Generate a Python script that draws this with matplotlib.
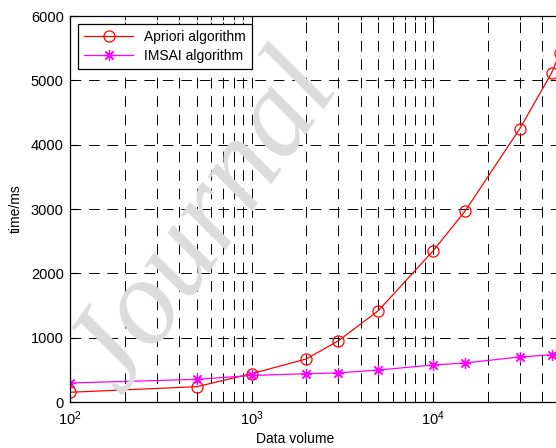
import numpy as np
import matplotlib.pyplot as plt
from matplotlib.ticker import LogLocator, LogFormatterMathtext, NullFormatter

plt.rcParams['font.family'] = ['Liberation Sans', 'DejaVu Sans']
plt.rcParams['mathtext.fontset'] = 'custom'
plt.rcParams['mathtext.rm'] = 'Liberation Sans'
plt.rcParams['mathtext.it'] = 'Liberation Sans'

# data
volume = [100, 500, 1000, 2000, 3000, 5000, 10000, 15000, 30000, 45000, 50000]
apriori = [151, 238, 440, 668, 948, 1420, 2347, 2965, 4244, 5114, 5420]
imsai = [295, 352, 412, 440, 452, 497, 575, 606, 700, 734, 745]

fig = plt.figure(figsize=(5.56, 4.48), dpi=100)

# watermark
fig.text(0.37, 0.50, 'Journal', fontsize=88, family='Liberation Serif', style='italic',
         color='#dcdcdc', rotation=55, ha='center', va='center', zorder=0)

ax = fig.add_axes([70/556, 46/448, 486/556, 386/448])
ax.patch.set_alpha(0)

ax.plot(volume, apriori, color='red', lw=0.9, marker='o', ms=8, mfc='none',
        mec='red', mew=0.9, label='Apriori algorithm')
ax.plot(volume, imsai, color='magenta', lw=0.9, marker=(8, 2, 0), ms=8,
        mec='magenta', mew=0.9, label='IMSAI algorithm')

ax.set_xscale('log')
ax.set_xlim(100, 47600)
ax.set_ylim(0, 6000)
ax.set_yticks(np.arange(0, 6001, 1000))
ax.xaxis.set_major_locator(LogLocator(base=10))
ax.xaxis.set_major_formatter(LogFormatterMathtext())
ax.xaxis.set_minor_locator(LogLocator(base=10, subs=np.arange(2, 10)))
ax.xaxis.set_minor_formatter(NullFormatter())

ax.grid(True, which='major', axis='both', color='k', lw=0.7, linestyle=(0, (11, 8)))
ax.grid(True, which='minor', axis='x', color='k', lw=0.7, linestyle=(0, (11, 8)))

ax.tick_params(which='both', direction='in', top=True, right=False, labelsize=10.5)
ax.tick_params(which='major', length=5, width=0.8)
ax.tick_params(which='minor', length=3, width=0.6)
ax.tick_params(axis='x', pad=5.5)
ax.tick_params(axis='y', pad=4.5)
ax.spines['right'].set_visible(False)
for s in ['top', 'left', 'bottom']:
    ax.spines[s].set_linewidth(0.9)

ax.set_xlabel('Data volume', fontsize=10)
ax.set_ylabel('time/ms', fontsize=10)
ax.xaxis.set_label_coords(0.463, -0.078)
ax.yaxis.set_label_coords(-0.097, 0.5)

leg = ax.legend(loc='upper left', bbox_to_anchor=(0.0165, 0.979), borderaxespad=0,
                fancybox=False, edgecolor='k', framealpha=1, fontsize=10,
                handlelength=3.5, borderpad=0.45, labelspacing=0.35)
leg.get_frame().set_linewidth(0.9)

fig.savefig('out.png', dpi=100)
